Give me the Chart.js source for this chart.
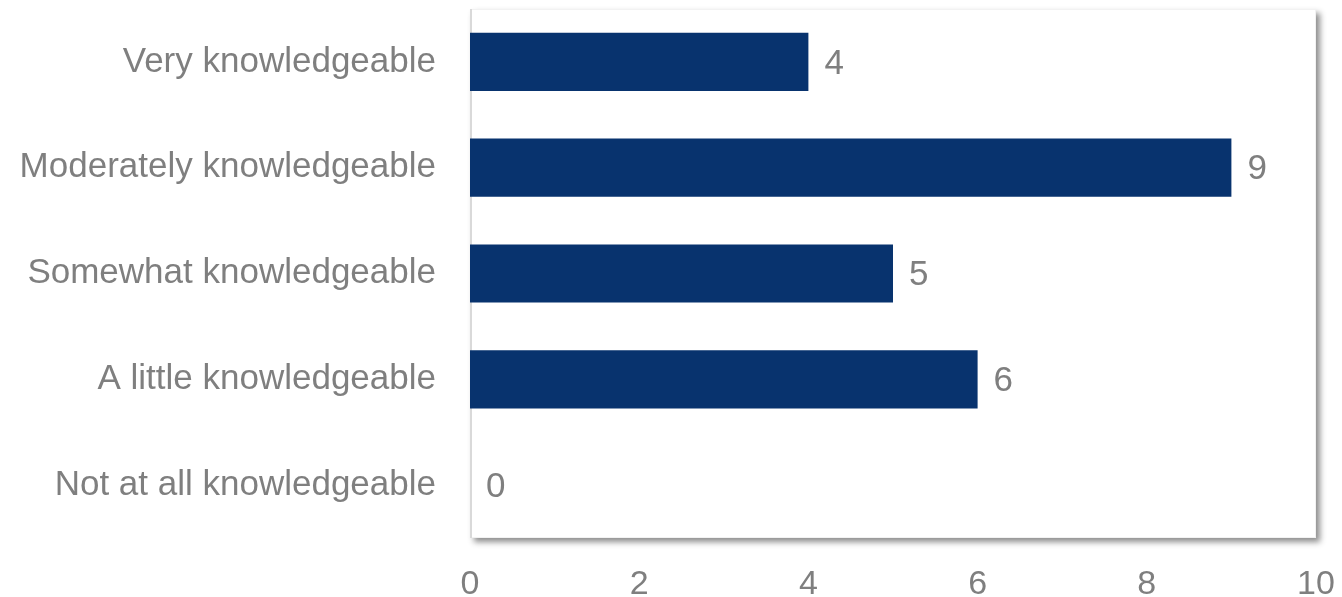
<!DOCTYPE html>
<html>
<head>
<meta charset="utf-8">
<script src="https://cdn.jsdelivr.net/npm/chart.js@4"></script>
<style>
  html, body { margin: 0; padding: 0; background: #fff; }
  #wrap { width: 1342px; height: 597px; }
</style>
</head>
<body>
<div id="wrap"><canvas id="chart" width="1342" height="597"></canvas></div>
<script>
const categories = [
  'Very knowledgeable',
  'Moderately knowledgeable',
  'Somewhat knowledgeable',
  'A little knowledgeable',
  'Not at all knowledgeable'
];
const counts = [4, 9, 5, 6, 0];
const xTicks = [0, 2, 4, 6, 8, 10];

const FONT = "'Liberation Sans', Arial, sans-serif";
const GRAY = '#7f7f7f';
const NAVY = '#08336e';

// white plot box with a soft shadow on right/bottom
const plotBox = {
  id: 'plotBox',
  beforeDatasetsDraw(chart) {
    const { ctx, chartArea: a } = chart;
    ctx.save();
    ctx.shadowColor = 'rgba(0,0,0,0.45)';
    ctx.shadowBlur = 6;
    ctx.shadowOffsetX = 4;
    ctx.shadowOffsetY = 4;
    ctx.fillStyle = '#fff';
    ctx.fillRect(a.left, a.top, a.right - a.left, a.bottom - a.top);
    ctx.restore();
    ctx.save();
    ctx.strokeStyle = '#f2f2f2';
    ctx.lineWidth = 1;
    ctx.strokeRect(a.left + 0.5, a.top + 0.5, a.right - a.left - 1, a.bottom - a.top - 1);
    ctx.strokeStyle = '#d9d9d9';
    ctx.lineWidth = 2;
    ctx.beginPath();
    ctx.moveTo(a.left + 1, a.top);
    ctx.lineTo(a.left + 1, a.bottom);
    ctx.stroke();
    ctx.restore();
  }
};

// value labels at the end of each bar
const valueLabels = {
  id: 'valueLabels',
  afterDatasetsDraw(chart) {
    const { ctx } = chart;
    const meta = chart.getDatasetMeta(0);
    ctx.save();
    ctx.font = '35px ' + FONT;
    ctx.fillStyle = GRAY;
    ctx.textAlign = 'left';
    ctx.textBaseline = 'middle';
    meta.data.forEach((bar, i) => {
      ctx.fillText(String(counts[i]), bar.x + 16, bar.y + 2);
    });
    ctx.restore();
  }
};

new Chart(document.getElementById('chart'), {
  type: 'bar',
  data: {
    labels: categories,
    datasets: [{
      data: counts,
      backgroundColor: NAVY,
      borderWidth: 0,
      categoryPercentage: 1,
      barPercentage: 0.55
    }]
  },
  options: {
    indexAxis: 'y',
    responsive: false,
    animation: false,
    layout: { padding: { top: 9, right: 26, left: 0, bottom: 0 } },
    plugins: { legend: { display: false }, tooltip: { enabled: false } },
    scales: {
      x: {
        min: 0,
        max: 10,
        afterBuildTicks(scale) { scale.ticks = xTicks.map(v => ({ value: v })); },
        afterFit(scale) {
          scale.height = 59;
          scale.paddingLeft = 0;
          scale.paddingRight = 0;
        },
        grid: { display: false, drawTicks: false },
        border: { display: false },
        ticks: { color: GRAY, font: { family: FONT, size: 34 }, padding: 26, maxRotation: 0 }
      },
      y: {
        afterFit(scale) {
          scale.width = 470;
          scale.paddingTop = 0;
          scale.paddingBottom = 0;
        },
        grid: { display: false, drawTicks: false },
        border: { display: false },
        ticks: { color: GRAY, font: { family: FONT, size: 35 }, padding: 34 }
      }
    }
  },
  plugins: [plotBox, valueLabels]
});
</script>
</body>
</html>
